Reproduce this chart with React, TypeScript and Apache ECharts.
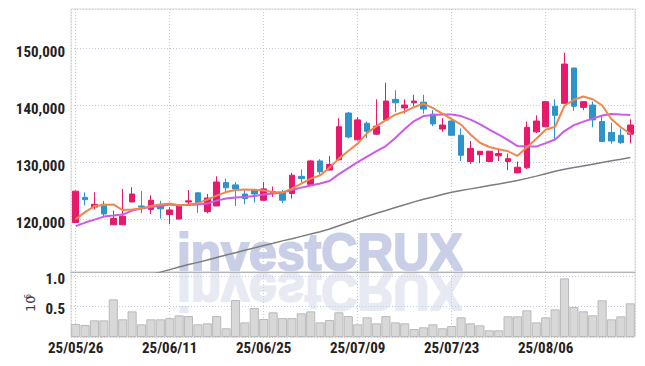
import React, { useEffect, useRef } from 'react';
import * as echarts from 'echarts';

const dates = [
  '25/05/26', '25/05/27', '25/05/28', '25/05/29', '25/05/30', '25/06/02', '25/06/04', '25/06/05', '25/06/09', '25/06/10',
  '25/06/11', '25/06/12', '25/06/13', '25/06/16', '25/06/17', '25/06/18', '25/06/19', '25/06/20', '25/06/23', '25/06/24',
  '25/06/25', '25/06/26', '25/06/27', '25/06/30', '25/07/01', '25/07/02', '25/07/03', '25/07/04', '25/07/07', '25/07/08',
  '25/07/09', '25/07/10', '25/07/11', '25/07/14', '25/07/15', '25/07/16', '25/07/17', '25/07/18', '25/07/21', '25/07/22',
  '25/07/23', '25/07/24', '25/07/25', '25/07/28', '25/07/29', '25/07/30', '25/07/31', '25/08/01', '25/08/04', '25/08/05',
  '25/08/06', '25/08/07', '25/08/08', '25/08/11', '25/08/12', '25/08/13', '25/08/14', '25/08/18', '25/08/19', '25/08/20',
];

const opens = [
  119400, 123800, 122100, 122600, 119000, 119000, 123000, 122300, 121700, 122500,
  120800, 120000, 123000, 124600, 121300, 122300, 126400, 126000, 124400, 125100,
  123300, 124500, 124600, 124500, 127500, 126100, 130200, 128600, 130400, 138600,
  133900, 136800, 134900, 137400, 141000, 139500, 140400, 140500, 138400, 135800,
  137200, 134700, 130100, 131300, 130100, 131100, 130100, 128100, 129000, 135300,
  136200, 139800, 140300, 146500, 139600, 140000, 137100, 135200, 134700, 134900,
];
const highs = [
  125000, 124700, 124700, 123200, 121500, 125300, 125600, 124900, 124200, 123200,
  122100, 122500, 125100, 124700, 124400, 127500, 127100, 126500, 125200, 125300,
  126500, 125700, 125100, 128100, 128700, 130400, 130500, 131100, 137700, 138800,
  137900, 137100, 141000, 143900, 142600, 141000, 141800, 141800, 139100, 137700,
  137700, 135900, 133700, 131900, 131900, 132400, 131500, 130100, 137100, 138200,
  140700, 141000, 149200, 146500, 140700, 140600, 138200, 136900, 135900, 137500,
];
const lows = [
  119300, 122400, 121700, 120500, 119000, 119000, 123000, 121000, 120900, 120100,
  119100, 120000, 122500, 121100, 121000, 122300, 124600, 122300, 122600, 122900,
  123300, 123900, 122800, 123600, 126400, 126100, 127800, 128500, 130300, 134200,
  133800, 134200, 134800, 137300, 138800, 138500, 139800, 138500, 136300, 135300,
  134700, 130200, 129700, 129800, 130000, 130200, 128600, 128100, 128800, 135100,
  136100, 134000, 140300, 139000, 139100, 136100, 133500, 133200, 133200, 133300,
];
const closes = [
  124900, 123400, 122600, 120900, 120100, 120500, 124400, 122100, 123300, 121800,
  121600, 122300, 123200, 122900, 123700, 126500, 125500, 125300, 123600, 124400,
  125300, 124800, 123300, 127700, 127100, 130200, 128300, 129600, 136200, 134400,
  137400, 135400, 136300, 140700, 140400, 140000, 140700, 139300, 136700, 136500,
  134700, 131200, 132400, 131900, 131900, 131500, 130600, 129100, 136100, 137200,
  140600, 138200, 147200, 139800, 140600, 137400, 133600, 133700, 133400, 136500,
];

const ma5 = [
  120000, 121230, 122280, 122460, 122580, 121580, 121670, 121880, 122280, 122540,
  122750, 122370, 122540, 122800, 123420, 124120, 124740, 125090, 125210, 125140,
  125000, 124740, 124650, 125350, 126230, 127100, 127660, 129030, 130610, 131930,
  133240, 135080, 136310, 137370, 138330, 138860, 139650, 140260, 139470, 138510,
  137540, 136580, 134830, 133390, 132650, 132250, 131890, 131100, 132600, 134090,
  135670, 136200, 139880, 140930, 141510, 141020, 139970, 137520, 136110, 134970,
];
const ma10 = [
  118770, 119390, 119910, 120440, 120610, 120790, 121490, 121840, 122100, 122280,
  122540, 122460, 122460, 122540, 122720, 123240, 123600, 123770, 123860, 124030,
  124300, 124470, 124650, 125090, 125520, 125880, 126230, 126670, 127890, 128950,
  130000, 130960, 131930, 132810, 134210, 135790, 137190, 138070, 138250, 138330,
  138330, 138070, 137450, 136660, 135700, 134830, 133860, 132810, 132720, 132720,
  133330, 133950, 135440, 136490, 137100, 137630, 138160, 138420, 138330, 138250,
];
const ma60 = [
  null, null, null, null, null, null, null, null, 110270, 110700,
  111140, 111580, 112020, 112410, 112840, 113280, 113690, 114110, 114530, 114950,
  115370, 115770, 116180, 116560, 116970, 117370, 117790, 118250, 118830, 119400,
  119980, 120510, 121020, 121510, 122020, 122510, 123020, 123490, 123890, 124320,
  124720, 125020, 125300, 125580, 125880, 126170, 126470, 126770, 127140, 127540,
  127960, 128380, 128740, 129030, 129330, 129630, 129930, 130230, 130510, 130810,
];
const volumes = [
  0.213, 0.197, 0.273, 0.273, 0.618, 0.29, 0.42, 0.208, 0.29, 0.29,
  0.31, 0.355, 0.344, 0.208, 0.224, 0.344, 0.143, 0.607, 0.24, 0.475,
  0.295, 0.405, 0.31, 0.31, 0.388, 0.42, 0.24, 0.279, 0.405, 0.344,
  0.208, 0.323, 0.224, 0.344, 0.24, 0.224, 0.131, 0.159, 0.208, 0.143,
  0.18, 0.323, 0.224, 0.192, 0.11, 0.11, 0.339, 0.339, 0.437, 0.24,
  0.323, 0.454, 0.962, 0.492, 0.421, 0.356, 0.602, 0.29, 0.339, 0.552,
];

const FONT = '"Liberation Sans Narrow", "Roboto Condensed", "DejaVu Sans Condensed", sans-serif';
const UP = '#E6196B';
const DOWN = '#2E93C8';
const GRIDLINE = { type: [1, 2] as any, color: '#c3c9de', width: 1 };
const WM_FONT = 'bold 52px "Liberation Sans", Arial, sans-serif';

export default function App() {
  const ref = useRef<HTMLDivElement>(null);
  useEffect(() => {
    document.body.style.margin = '0';
    const chart = echarts.init(ref.current as HTMLDivElement, null, { renderer: 'svg' });
    const labelStyle = { fontFamily: FONT, fontSize: 15, fontWeight: 'bold', color: '#222' };
    const vGrid = (gridIndex: number) => ({
      type: 'value', gridIndex, min: -0.5, max: dates.length - 0.5, splitNumber: 6,
      axisLine: { show: false }, axisTick: { show: false }, axisLabel: { show: false },
      splitLine: { show: true, lineStyle: GRIDLINE },
    });
    const option: any = {
      animation: false,
      grid: [
        { left: 71, right: 10, top: 9, height: 263, show: true, borderColor: '#d9d9d9', borderWidth: 1 },
        { left: 71, right: 10, top: 272, height: 65, show: true, borderColor: '#d9d9d9', borderWidth: 1 },
      ],
      xAxis: [
        {
          type: 'category', gridIndex: 0, data: dates, boundaryGap: true,
          axisLine: { show: true, lineStyle: { color: '#b3b3b3' } },
          axisTick: { show: false }, axisLabel: { show: false }, splitLine: { show: false },
        },
        {
          type: 'category', gridIndex: 1, data: dates, boundaryGap: true,
          axisLine: { show: false }, axisTick: { show: false },
          axisLabel: { ...labelStyle, interval: 9, margin: 3 },
          splitLine: { show: false },
        },
        vGrid(0),
        vGrid(1),
      ],
      yAxis: [
        {
          type: 'value', gridIndex: 0, min: 110720, max: 156850, splitNumber: 5,
          axisLine: { show: false }, axisTick: { show: false },
          axisLabel: {
            ...labelStyle, margin: 6,
            formatter: (v: number) => (Math.round(v) % 10000 === 0 ? '{v|' + Math.round(v).toLocaleString('en-US') + '}' : ''),
            rich: { v: { ...labelStyle, padding: [7, 0, 0, 0] } },
          },
          splitLine: { show: true, lineStyle: GRIDLINE },
        },
        {
          type: 'value', gridIndex: 1, min: 0, max: 1.066, interval: 0.5,
          axisLine: { show: false }, axisTick: { show: false },
          axisLabel: {
            ...labelStyle, margin: 6,
            formatter: (v: number) => (Math.abs(v - 0.5) < 1e-6 || Math.abs(v - 1) < 1e-6 ? '{v|' + v.toFixed(1) + '}' : ''),
            rich: { v: { ...labelStyle, padding: [5, 0, 0, 0] } },
          },
          splitLine: { show: true, lineStyle: GRIDLINE },
        },
      ],
      graphic: [
        {
          type: 'text', x: 177, y: 226, z: -10, silent: true, scaleX: 0.96,
          style: { text: 'investCRUX', font: WM_FONT, fill: '#c8cfe6', stroke: '#c8cfe6', lineWidth: 2 },
        },
        {
          type: 'text', x: 177, y: 544 - 226, z: -10, silent: true, scaleX: 0.96, scaleY: -1,
          style: { text: 'investCRUX', font: WM_FONT, fill: '#e7e9f3', stroke: '#e7e9f3', lineWidth: 2 },
        },
        {
          type: 'group', x: 37, y: 312, rotation: Math.PI / 2, silent: true,
          children: [
            { type: 'text', x: 0, y: 0, style: { text: '10', font: '13px "DejaVu Sans", sans-serif', fill: '#444', textVerticalAlign: 'bottom' } },
            { type: 'text', x: 13, y: -5, style: { text: '6', font: '8px "DejaVu Sans", sans-serif', fill: '#444', textVerticalAlign: 'bottom' } },
          ],
        },
      ],
      series: [
        {
          type: 'candlestick', xAxisIndex: 0, yAxisIndex: 0, barWidth: 6,
          data: opens.map((o, i) => [o, closes[i], lows[i], highs[i]]),
          itemStyle: { color: UP, color0: DOWN, borderColor: UP, borderColor0: DOWN, borderWidth: 1 },
        },
        {
          type: 'line', xAxisIndex: 0, yAxisIndex: 0, data: ma60, symbol: 'none',
          lineStyle: { color: '#7d7d7d', width: 1.5 },
        },
        {
          type: 'line', xAxisIndex: 0, yAxisIndex: 0, data: ma10, symbol: 'none',
          lineStyle: { color: '#CC5AEB', width: 2 },
        },
        {
          type: 'line', xAxisIndex: 0, yAxisIndex: 0, data: ma5, symbol: 'none',
          lineStyle: { color: '#F0874C', width: 2 },
        },
        {
          type: 'bar', xAxisIndex: 1, yAxisIndex: 1, data: volumes, barCategoryGap: '3%',
          itemStyle: { color: '#d8d8d8', borderColor: '#bababa', borderWidth: 1 },
        },
      ],
    };
    chart.setOption(option);
    return () => chart.dispose();
  }, []);
  return <div ref={ref} style={{ width: 645, height: 366 }} />;
}
